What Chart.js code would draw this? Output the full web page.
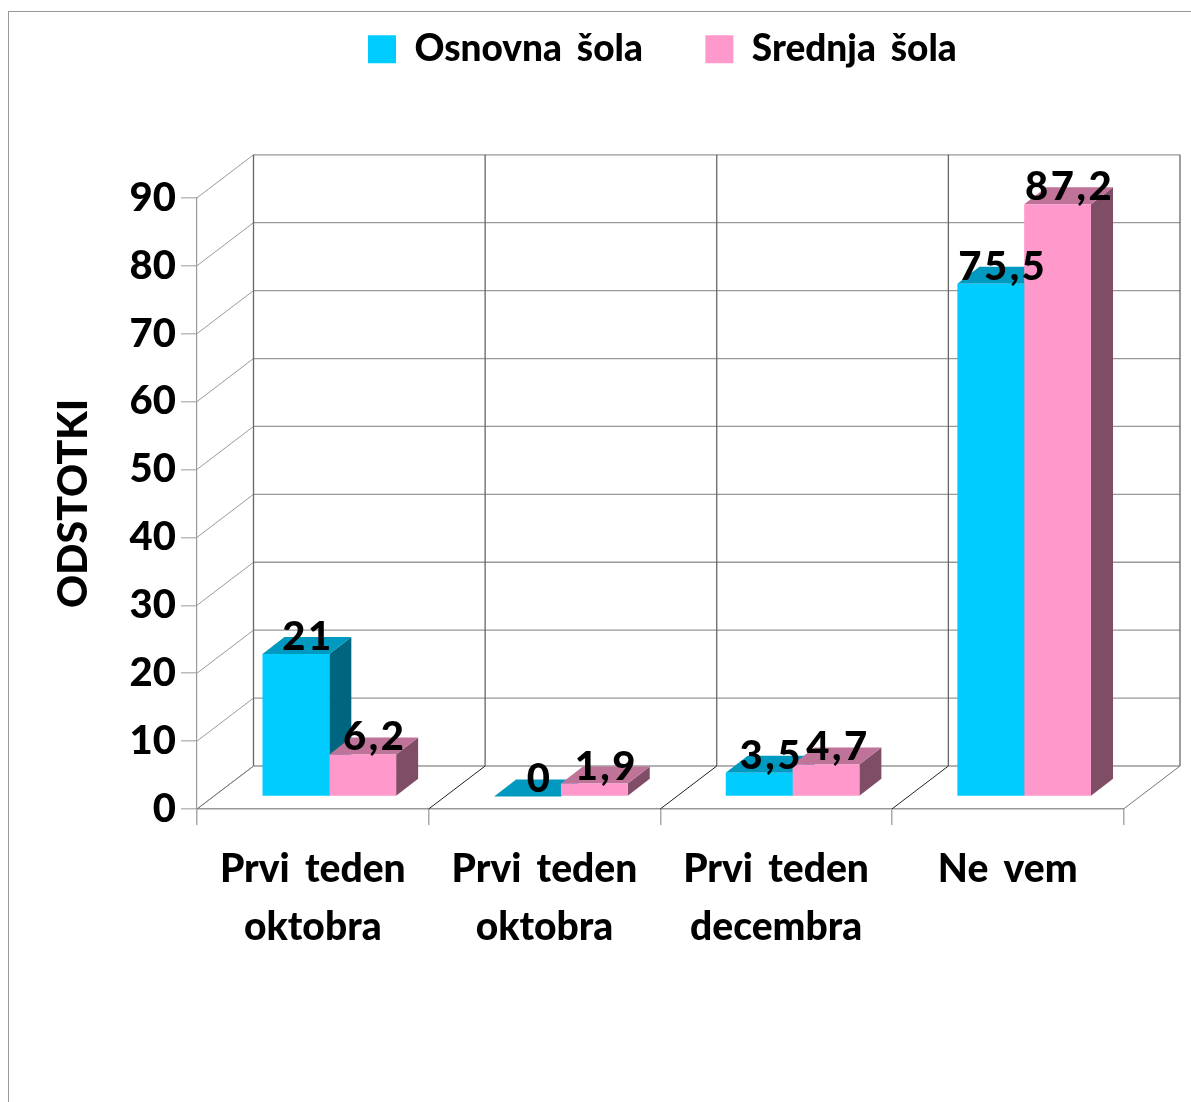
<!DOCTYPE html>
<html><head><meta charset="utf-8">
<style>
html,body{margin:0;padding:0;background:#fff;overflow:hidden}
#wrap{position:relative;width:1191px;height:1102px}
#frame{position:absolute;left:8px;top:11px;width:1183px;height:1091px;border-left:1.5px solid #999;border-top:1.5px solid #999;box-sizing:border-box}
canvas{position:absolute;left:0;top:0}
</style>
<script src="https://cdn.jsdelivr.net/npm/chart.js@4"></script>
</head><body><div id="wrap"><div id="frame"></div><canvas id="c" width="1191" height="1102"></canvas></div>
<script>
const categories = [["Prvi teden","oktobra"],["Prvi teden","oktobra"],["Prvi teden","decembra"],["Ne vem"]];
const osnovna = [21,0,3.5,75.5];
const srednja = [6.2,1.9,4.7,87.2];
const seriesNames = ["Osnovna šola","Srednja šola"];
const yTicksMax = 90;

const FONT = 'Lato';
const WALL = {dx:56.5, dy:-43};
const SHIFT = {dx:16.5, dy:-12.5};
const DEPTH = {dx:22, dy:-17};
const FACES = [{top:'#0099BF',side:'#006680'},{top:'#BF7399',side:'#804D66'}];

function line(ctx,x1,y1,x2,y2,color,w){ctx.strokeStyle=color;ctx.lineWidth=w||1;ctx.beginPath();ctx.moveTo(x1,y1);ctx.lineTo(x2,y2);ctx.stroke();}
function poly(ctx,pts,color){ctx.fillStyle=color;ctx.beginPath();pts.forEach((p,i)=>i?ctx.lineTo(p[0],p[1]):ctx.moveTo(p[0],p[1]));ctx.closePath();ctx.fill();}

const box3d = {
  id:'box3d',
  beforeLayout(chart){chart.ctx.wordSpacing='6px';},
  afterLayout(chart){
    const l=chart.legend;
    const w=l.right-l.left;
    l.left=368-l.options.labels.padding; l.right=l.left+w;
    l.top=53-l.options.labels.padding-22.2;
    l.bottom=l.top+l.height;
  },
  beforeDatasetsDraw(chart){
    const ctx=chart.ctx, a=chart.chartArea, ys=chart.scales.y;
    ctx.save();
    ys.ticks.forEach(t=>{
      const y=ys.getPixelForValue(t.value);
      line(ctx,a.left,y,a.left+WALL.dx,y+WALL.dy,'#999',1);
      line(ctx,a.left+WALL.dx,y+WALL.dy,a.right+WALL.dx,y+WALL.dy,'#999',1.3);
    });
    const n=categories.length;
    for(let i=0;i<=n;i++){
      const x=a.left+(a.right-a.left)*i/n;
      line(ctx,x+WALL.dx,a.top+WALL.dy,x+WALL.dx,a.bottom+WALL.dy,'#666',1.3);
      line(ctx,x,a.bottom,x+WALL.dx,a.bottom+WALL.dy,(i===0||i===n)?'#777':'#222',1);
    }
    chart.data.datasets.forEach((ds,di)=>{
      chart.getDatasetMeta(di).data.forEach(b=>{
        const {x,y,base,width}=b.getProps(['x','y','base','width'],true);
        const L=x-width/2+SHIFT.dx,R=x+width/2+SHIFT.dx,T=y+SHIFT.dy,B=base+SHIFT.dy;
        poly(ctx,[[R,T],[R+DEPTH.dx,T+DEPTH.dy],[R+DEPTH.dx,B+DEPTH.dy],[R,B]],FACES[di].side);
        poly(ctx,[[L,T],[L+DEPTH.dx,T+DEPTH.dy],[R+DEPTH.dx,T+DEPTH.dy],[R,T]],FACES[di].top);
      });
    });
    ctx.restore();
    ctx.save();
    ctx.translate(SHIFT.dx,SHIFT.dy);
  },
  afterDatasetsDraw(chart){
    const ctx=chart.ctx;
    ctx.restore();
    ctx.save();
    ctx.fillStyle='#000';ctx.textAlign='center';ctx.textBaseline='middle';
    ctx.font='900 40px '+FONT;
    ctx.letterSpacing='2.5px';
    chart.data.datasets.forEach((ds,di)=>{
      chart.getDatasetMeta(di).data.forEach((b,i)=>{
        const {x,y}=b.getProps(['x','y'],true);
        ctx.fillText(String(ds.data[i]).replace('.',','),x+SHIFT.dx+DEPTH.dx/2+1,y+SHIFT.dy-17);
      });
    });
    ctx.restore();
  }
};

new Chart(document.getElementById('c'),{
  type:'bar',
  data:{labels:categories,datasets:[
    {label:seriesNames[0],data:osnovna,backgroundColor:'#00CCFF',borderWidth:0},
    {label:seriesNames[1],data:srednja,backgroundColor:'#FF99CC',borderWidth:0}
  ]},
  options:{
    responsive:false,animation:false,
    datasets:{bar:{categoryPercentage:0.577,barPercentage:1}},
    layout:{autoPadding:false,padding:{left:53,right:67.5,top:88.3,bottom:0}},
    plugins:{
      tooltip:{enabled:false},
      legend:{display:true,position:'top',align:'start',
        labels:{boxWidth:28,boxHeight:28,padding:62.5,color:'#000',font:{family:FONT,weight:'900',size:37}}}
    },
    scales:{
      x:{afterFit:s=>{s.height=293;},
        grid:{offset:true,drawOnChartArea:false,drawTicks:true,tickLength:16,color:'#aaa',lineWidth:1.5},
        border:{display:true,color:'#999',width:1.5},
        ticks:{color:'#000',padding:15,maxRotation:0,autoSkip:false,font:{family:FONT,weight:'900',size:39,lineHeight:1.487}}},
      y:{min:0,max:yTicksMax,afterFit:s=>{s.width=144;},
        title:{display:true,text:'ODSTOTKI',color:'#000',padding:0,font:{family:FONT,weight:'900',size:41,lineHeight:1}},
        grid:{drawOnChartArea:false,drawTicks:true,tickLength:16,color:'#bbb',lineWidth:1.5},
        border:{display:true,color:'#999',width:1.2},
        ticks:{stepSize:10,color:'#000',padding:5,font:{family:FONT,weight:'900',size:40}}}
    }
  },
  plugins:[box3d]
});
</script></body></html>
